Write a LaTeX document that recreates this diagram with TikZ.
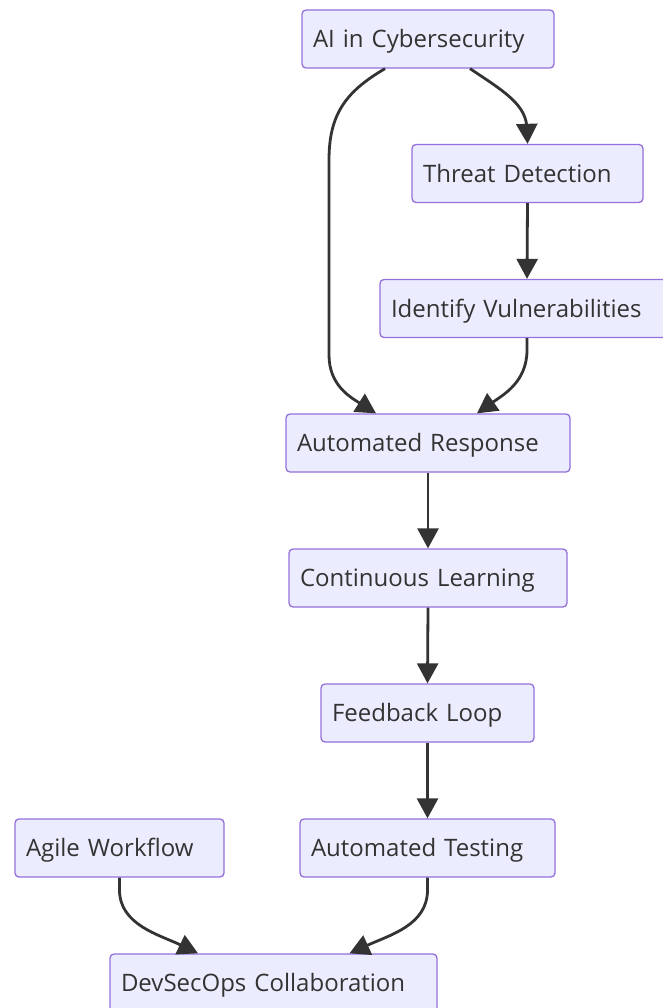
\documentclass[tikz,border=0pt]{standalone}
\usepackage{fontspec}
\setmainfont{Open Sans}
\usetikzlibrary{arrows.meta,calc}

\definecolor{boxfill}{HTML}{ECECFF}
\definecolor{boxline}{HTML}{9370DB}
\definecolor{ink}{HTML}{333333}

\begin{document}
\begin{tikzpicture}[x=1pt,y=-1pt,
  box/.style={draw=boxline, fill=boxfill, line width=1.3pt, rounded corners=4pt,
    minimum height=58pt, inner xsep=11pt, inner ysep=0pt, align=left,
    text=ink, text height=17.4pt, text depth=0pt,
    font=\fontsize{24}{28}\selectfont},
  link/.style={draw=ink, line width=2.8pt, -{Triangle[length=20pt,width=21pt]}}]

\useasboundingbox (0,0) rectangle (663,1008);

% nodes
\node[box, text width=230pt] (ai) at (428,39)     {AI in Cybersecurity};
\node[box, text width=209pt] (td) at (527.5,173.5) {Threat Detection};
\node[box, text width=272pt] (iv) at (527,308.5)   {Identify Vulnerabilities};
\node[box, text width=262pt] (ar) at (428,443)     {Automated Response};
\node[box, text width=256pt] (cl) at (428,578)     {Continuous Learning};
\node[box, text width=191pt] (fl) at (427.5,713)   {Feedback Loop};
\node[box, text width=233pt] (at) at (427.5,848)   {Automated Testing};
\node[box, text width=187pt] (aw) at (119.5,848)   {Agile Workflow};
\node[box, text width=305pt] (dc) at (273.5,983)   {DevSecOps Collaboration};

% connectors
\draw[link] ($(ai.south)+(-43,0)$) .. controls (345,92) and (329,115) .. (329,160)
  -- (329,355) .. controls (329,385) and (350,397) .. ($(ar.north)+(-52,0)$);
\draw[link] ($(ai.south)+(42,0)$) .. controls (505,92) and (527,105) .. (527,130) -- (td.north);
\draw[link] (td.south) -- (iv.north);
\draw[link] (iv.south) -- (527,350) .. controls (527,382) and (503,395) .. ($(ar.north)+(49,0)$);
\draw[link] (ar.south) -- (cl.north);
\draw[link] (cl.south) -- (fl.north);
\draw[link] (fl.south) -- (at.north);
\draw[link] (aw.south) -- (119.5,890) .. controls (119.5,925) and (160,935) .. ($(dc.north)+(-75.5,0)$);
\draw[link] (at.south) -- (427.5,890) .. controls (427.5,925) and (390,935) .. ($(dc.north)+(76,0)$);
\end{tikzpicture}
\end{document}
